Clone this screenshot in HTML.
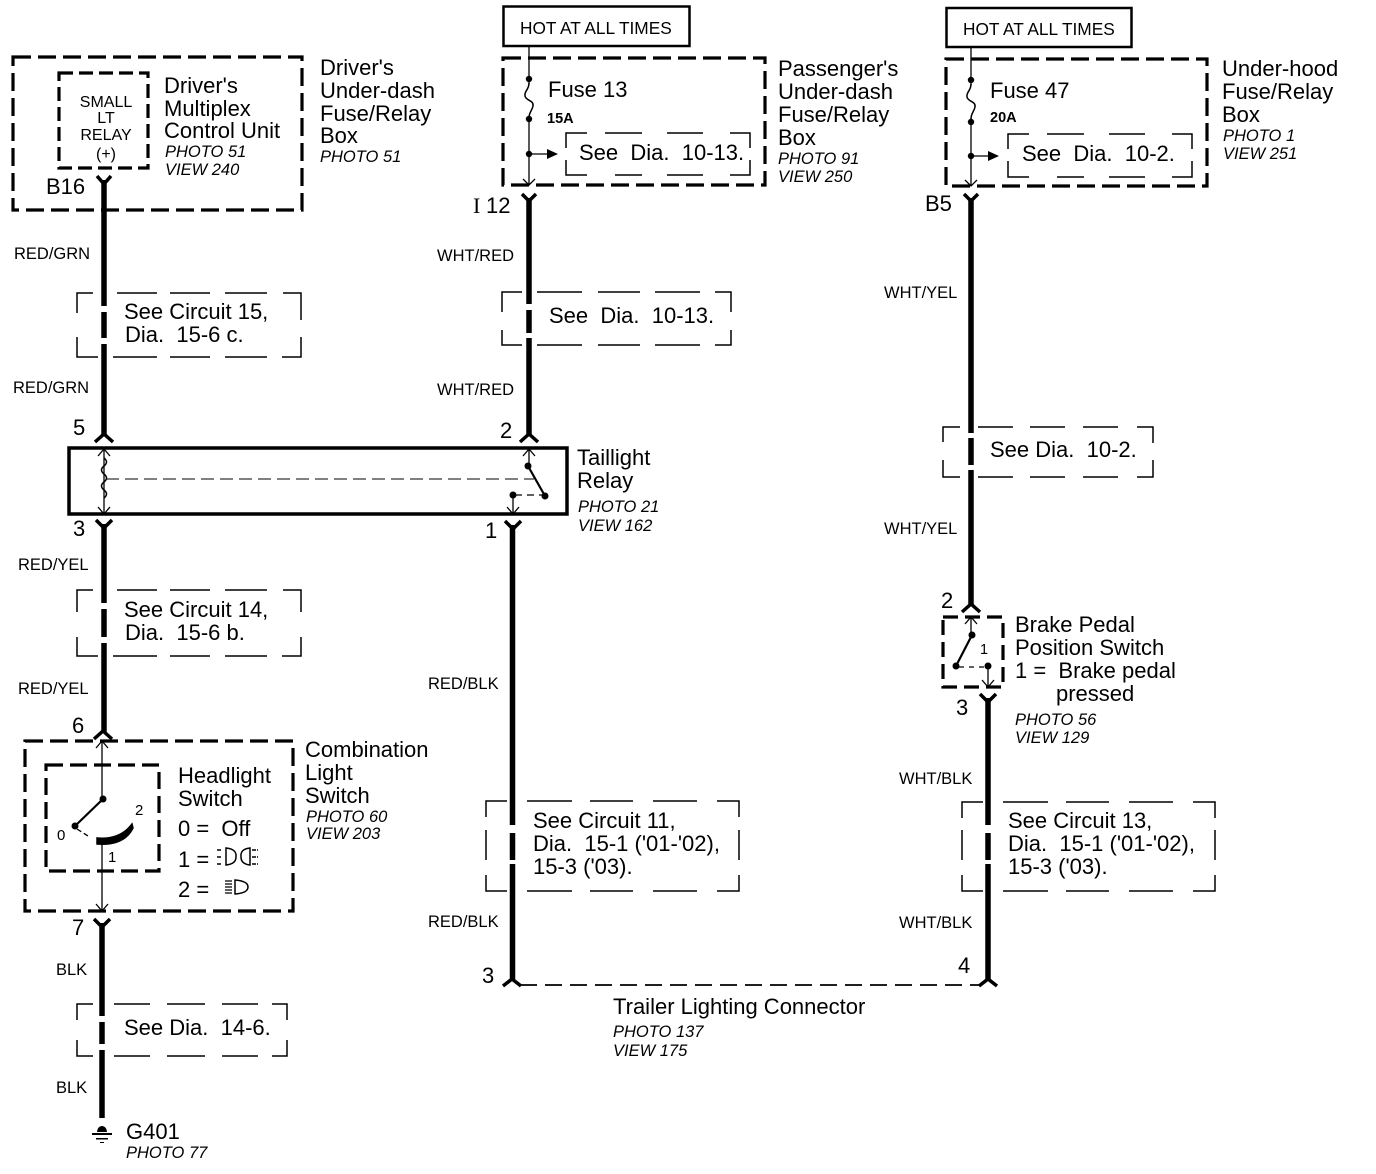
<!DOCTYPE html>
<html><head><meta charset="utf-8"><style>
html,body{margin:0;padding:0;background:#fff}
svg{display:block}
text{font-family:"Liberation Sans",sans-serif;fill:#000;white-space:pre}
.t{font-size:22px}
.w{font-size:16.5px}
.p{font-size:16.5px;font-style:italic}
.d{stroke:#000;stroke-width:3.2;fill:none;stroke-dasharray:18 7}
.s{stroke:#000;stroke-width:1.5;fill:none}
.b{stroke:#000;stroke-width:5.5;fill:none}
.f{stroke:#000;stroke-width:3.5;fill:none}
.l{stroke:#000;stroke-width:1.3;fill:none}
</style></head><body>
<svg width="1376" height="1174" viewBox="0 0 1376 1174" xmlns="http://www.w3.org/2000/svg">
<rect width="1376" height="1174" fill="#fff"/>

<!-- HOT boxes -->
<rect x="503.500" y="6.500" width="186" height="39.500" fill="none" stroke="#000" stroke-width="2.500"/>
<text x="520" y="34" style="font-size:17.300px">HOT AT ALL TIMES</text>
<rect x="946.500" y="8" width="185" height="39" fill="none" stroke="#000" stroke-width="2.500"/>
<text x="963" y="35" style="font-size:17.300px">HOT AT ALL TIMES</text>

<!-- Driver's box -->
<rect x="13" y="57" width="289" height="153" class="d"/>
<rect x="59" y="73" width="89" height="95" class="d" style="stroke-dasharray:14 6"/>
<g style="font-size:16px" text-anchor="middle">
<text x="106" y="107">SMALL</text><text x="106" y="123">LT</text><text x="106" y="140">RELAY</text><text x="106" y="159">(+)</text>
</g>
<text class="t" x="164" y="93">Driver's</text>
<text class="t" x="164" y="116">Multiplex</text>
<text class="t" x="164" y="138">Control Unit</text>
<text class="p" x="165" y="157">PHOTO 51</text>
<text class="p" x="165" y="175">VIEW 240</text>
<text class="t" x="46" y="194">B16</text>
<text class="t" x="320" y="75">Driver's</text>
<text class="t" x="320" y="98">Under-dash</text>
<text class="t" x="320" y="121">Fuse/Relay</text>
<text class="t" x="320" y="143">Box</text>
<text class="p" x="320" y="162">PHOTO 51</text>

<!-- Left wire -->
<path class="f" d="M97 176L104 184L111 176"/>
<path class="b" d="M104 180V306M104 312V338M104 344V436"/>
<path class="f" d="M95 442L104 434L113 442"/>
<text class="w" x="14" y="259">RED/GRN</text>
<text class="w" x="13" y="393">RED/GRN</text>
<path class="s" d="M77 313V293H93M117 293H157M170 293H210M225 293H267M283 293H301V320M301 337V357H282M267 357H225M210 357H170M157 357H113M98 357H77V337"/>
<text class="t" x="124" y="319">See Circuit 15,</text>
<text class="t" x="125" y="342">Dia.  15-6 c.</text>

<!-- Relay -->
<rect x="69" y="448" width="498" height="66" fill="none" stroke="#000" stroke-width="3.500"/>
<path class="l" d="M104 449V514"/>
<path class="l" d="M98 456L104 449L110 456M98 507L104 514L110 507"/>
<path d="M104 458q5 4 0 8q-5 4 0 8q5 4 0 8q-5 4 0 8q5 4 0 8" fill="none" stroke="#000" stroke-width="1.500"/>
<path class="l" d="M106 479H534" style="stroke-dasharray:13 6;stroke-width:1"/>
<path class="l" d="M529 449V466M523 456L529 449L535 456"/>
<circle cx="528" cy="466" r="3.500"/><circle cx="545" cy="496" r="3.500"/><circle cx="513" cy="495" r="3.500"/>
<path d="M528 466L545 496" stroke="#000" stroke-width="2.200"/>
<path class="l" d="M513 495V514M507 507L513 514L519 507"/>
<path class="l" d="M515 495H542" style="stroke-dasharray:7 5"/>
<text class="t" x="73" y="435">5</text>
<text class="t" x="500" y="438">2</text>
<text class="t" x="73" y="536">3</text>
<text class="t" x="485" y="538">1</text>
<text class="t" x="577" y="465">Taillight</text>
<text class="t" x="577" y="488">Relay</text>
<text class="p" x="578" y="512">PHOTO 21</text>
<text class="p" x="578" y="531">VIEW 162</text>

<!-- left wire 2 -->
<path class="f" d="M96 520L104 528L112 520"/>
<path class="b" d="M104 524V603M104 609V637M104 643V733"/>
<path class="f" d="M94 739L103 731L112 739"/>
<text class="w" x="18" y="570">RED/YEL</text>
<text class="w" x="18" y="694">RED/YEL</text>
<path class="s" d="M77 612V590H93M117 590H157M170 590H210M225 590H267M283 590H301V612M301 637V656H282M267 656H225M210 656H170M157 656H113M98 656H77V637"/>
<text class="t" x="124" y="617">See Circuit 14,</text>
<text class="t" x="125" y="640">Dia.  15-6 b.</text>
<text class="t" x="72" y="733">6</text>

<!-- Combination switch -->
<rect x="25" y="741" width="268" height="170" class="d"/>
<rect x="46" y="765" width="113" height="106" class="d" style="stroke-dasharray:17 7"/>
<path class="l" d="M102 741V800M96 748L102 741L108 748M102 845V911M96 904L102 911L108 904"/>
<circle cx="103" cy="799" r="3.500"/><circle cx="75" cy="826" r="3.500"/>
<path d="M103 799L75 826" stroke="#000" stroke-width="2.200"/>
<path d="M77 829L88 836" stroke="#000" stroke-width="1.300" stroke-dasharray="5 3"/>
<path d="M97 838Q120 840 132 824L133 828Q124 846 97 844Z" stroke="#000" stroke-width="1.500"/>
<text x="57" y="840" style="font-size:15px">0</text>
<text x="135" y="815" style="font-size:15px">2</text>
<text x="108" y="862" style="font-size:15px">1</text>
<text class="t" x="178" y="783">Headlight</text>
<text class="t" x="178" y="806">Switch</text>
<text class="t" x="178" y="836">0 =  Off</text>
<text class="t" x="178" y="867">1 =</text>
<text class="t" x="178" y="897">2 =</text>
<g fill="none" stroke="#000" stroke-width="1.500">
<path d="M226 848Q237 849 236 857Q236 864 226 865ZM250 848Q240 849 241 857Q241 864 250 865Z"/>
<path d="M217 850h5M217 857h5M217 864h5M252 850h6M252 857h6M252 864h6" stroke-dasharray="4 1"/>
<path d="M235 880Q248 881 248 887Q248 893 235 894Z"/>
<path d="M225 881h7M225 884h7M225 887h7M225 890h7M225 893h7" stroke-width="1.200"/>
</g>
<text class="t" x="305" y="757">Combination</text>
<text class="t" x="305" y="780">Light</text>
<text class="t" x="305" y="803">Switch</text>
<text class="p" x="306" y="822">PHOTO 60</text>
<text class="p" x="306" y="839">VIEW 203</text>

<!-- left wire 3 -->
<text class="t" x="72" y="935">7</text>
<path class="f" d="M94 919L102 927L110 919"/>
<path class="b" d="M102 923V1016M102 1022V1044M102 1050V1118"/>
<text class="w" x="56" y="975">BLK</text>
<text class="w" x="56" y="1093">BLK</text>
<path class="s" d="M77 1020V1004H93M114 1004H150M167 1004H205M222 1004H258M272 1004H287V1020M287 1040V1056H272M258 1056H222M205 1056H167M150 1056H114M93 1056H77V1040"/>
<text class="t" x="124" y="1035">See Dia.  14-6.</text>
<path d="M97 1132a5 6 0 0 1 10 0z M92 1133h20v2h-20z M96 1138h12v1.500h-12z M100 1142h4v1h-4z"/>
<text class="t" x="126" y="1139">G401</text>
<text class="p" x="126" y="1158">PHOTO 77</text>

<!-- Passenger's box -->
<rect x="503" y="58" width="262" height="127" class="d"/>
<path class="l" d="M529 47V84M529 117V185M523 179L529 185L535 179"/>
<path d="M529 83C529 90 524 91 525 96C526 101 534 100 533 106C532 111 529 112 529 118" fill="none" stroke="#000" stroke-width="1.500"/>
<circle cx="529" cy="79" r="3.200"/><circle cx="529" cy="119" r="3.200"/><circle cx="529" cy="154" r="3.200"/>
<path class="l" d="M529 154H550"/><path d="M547 149L558 154L547 159Z"/>
<path class="s" d="M566 148V133H587M605 133H642M667 133H703M730 133H750V148M750 160V175H730M703 175H667M642 175H615M587 175H566V160"/>
<text class="t" x="548" y="97">Fuse 13</text>
<text x="547" y="123" style="font-size:14.500px;font-weight:bold">15A</text>
<text class="t" x="579" y="160">See  Dia.  10-13.</text>
<text class="t" x="778" y="76">Passenger's</text>
<text class="t" x="778" y="99">Under-dash</text>
<text class="t" x="778" y="122">Fuse/Relay</text>
<text class="t" x="778" y="145">Box</text>
<text class="p" x="778" y="164">PHOTO 91</text>
<text class="p" x="778" y="182">VIEW 250</text>
<text x="473" y="213" style="font-size:22px;font-family:'Liberation Serif',serif">I</text>
<text class="t" x="486" y="213">12</text>

<!-- center wire -->
<path class="f" d="M522 194L529 201L536 194"/>
<path class="b" d="M529 198V304M529 310V333M529 338V436"/>
<path class="f" d="M520 442L529 434L538 442"/>
<text class="w" x="437" y="261">WHT/RED</text>
<text class="w" x="437" y="395">WHT/RED</text>
<path class="s" d="M502 312V292H522M537 292H582M598 292H640M655 292H700M715 292H731V312M731 330V345H715M700 345H655M640 345H598M582 345H537M522 345H502V330"/>
<text class="t" x="549" y="323">See  Dia.  10-13.</text>

<!-- wire 1 lower -->
<path class="f" d="M505 521L513 529L521 521"/>
<path class="b" d="M512.500 525V825M512.500 833V860M512.500 864V981"/>
<path class="f" d="M503 986L512 979L521 986"/>
<text class="w" x="428" y="689">RED/BLK</text>
<text class="w" x="428" y="927">RED/BLK</text>
<path class="s" d="M486 817V801H507M527 801H572M590 801H633M653 801H697M717 801H739V817M739 830V860M739 875V891H717M697 891H653M633 891H590M572 891H527M507 891H486V875M486 860V830"/>
<text class="t" x="533" y="828">See Circuit 11,</text>
<text class="t" x="533" y="851">Dia.  15-1 ('01-'02),</text>
<text class="t" x="533" y="874">15-3 ('03).</text>
<text class="t" x="482" y="983">3</text>
<path class="l" d="M520 985H981" style="stroke-dasharray:17 8;stroke-width:1.800"/>
<text class="t" x="958" y="973">4</text>
<text class="t" x="613" y="1014">Trailer Lighting Connector</text>
<text class="p" x="613" y="1037">PHOTO 137</text>
<text class="p" x="613" y="1056">VIEW 175</text>

<!-- Under-hood box -->
<rect x="946" y="59" width="261" height="127" class="d"/>
<path class="l" d="M971 47V85M971 118V186M965 180L971 186L977 180"/>
<path d="M971 84C971 91 966 92 967 97C968 102 976 101 975 107C974 112 971 113 971 119" fill="none" stroke="#000" stroke-width="1.500"/>
<circle cx="971" cy="80" r="3.200"/><circle cx="971" cy="122" r="3.200"/><circle cx="971" cy="156" r="3.200"/>
<path class="l" d="M971 156H990"/><path d="M988 151L999 156L988 161Z"/>
<path class="s" d="M1008 149V134H1029M1047 134H1084M1109 134H1145M1172 134H1192V149M1192 161V177H1172M1145 177H1109M1084 177H1057M1029 177H1008V161"/>
<text class="t" x="990" y="98">Fuse 47</text>
<text x="990" y="122" style="font-size:14.500px;font-weight:bold">20A</text>
<text class="t" x="1022" y="161">See  Dia.  10-2.</text>
<text class="t" x="1222" y="76">Under-hood</text>
<text class="t" x="1222" y="99">Fuse/Relay</text>
<text class="t" x="1222" y="122">Box</text>
<text class="p" x="1223" y="141">PHOTO 1</text>
<text class="p" x="1223" y="159">VIEW 251</text>
<text class="t" x="925" y="211">B5</text>

<!-- right wire -->
<path class="f" d="M964 194L971 201L978 194"/>
<path class="b" d="M971 198V433M971 438V465M971 470V606"/>
<path class="f" d="M962 612L971 604L980 612"/>
<text class="w" x="884" y="298">WHT/YEL</text>
<text class="w" x="884" y="534">WHT/YEL</text>
<path class="s" d="M943 442V427H960M978 427H1013M1030 427H1065M1083 427H1118M1137 427H1153V443M1153 460V477H1137M1118 477H1083M1065 477H1030M1013 477H978M960 477H943V460"/>
<text class="t" x="990" y="457">See Dia.  10-2.</text>
<text class="t" x="941" y="608">2</text>

<!-- Brake switch -->
<rect x="943" y="617" width="60" height="70" class="d" style="stroke-dasharray:15 7"/>
<path class="l" d="M971 617V636M965 624L971 617L977 624"/>
<circle cx="972" cy="635" r="3.500"/><circle cx="956" cy="666" r="3.500"/><circle cx="988" cy="666" r="3.500"/>
<path d="M972 635L956 666" stroke="#000" stroke-width="2.200"/>
<path class="l" d="M959 667H985" style="stroke-dasharray:5 5"/>
<path class="l" d="M988 666V687M982 680L988 687L994 680"/>
<text x="980" y="654" style="font-size:14.500px">1</text>
<text class="t" x="956" y="715">3</text>
<text class="t" x="1015" y="632">Brake Pedal</text>
<text class="t" x="1015" y="655">Position Switch</text>
<text class="t" x="1015" y="678">1 =  Brake pedal</text>
<text class="t" x="1056" y="701">pressed</text>
<text class="p" x="1015" y="725">PHOTO 56</text>
<text class="p" x="1015" y="743">VIEW 129</text>

<!-- right wire lower -->
<path class="f" d="M980 694L988 702L996 694"/>
<path class="b" d="M988 698V825M988 833V860M988 864V981"/>
<path class="f" d="M979 986L988 979L997 986"/>
<text class="w" x="899" y="784">WHT/BLK</text>
<text class="w" x="899" y="928">WHT/BLK</text>
<path class="s" d="M962 818V802H983M1003 802H1048M1066 802H1109M1129 802H1173M1193 802H1215V818M1215 830V860M1215 875V891H1193M1173 891H1129M1109 891H1066M1048 891H1003M983 891H962V875M962 860V830"/>
<text class="t" x="1008" y="828">See Circuit 13,</text>
<text class="t" x="1008" y="851">Dia.  15-1 ('01-'02),</text>
<text class="t" x="1008" y="874">15-3 ('03).</text>
</svg>
</body></html>
